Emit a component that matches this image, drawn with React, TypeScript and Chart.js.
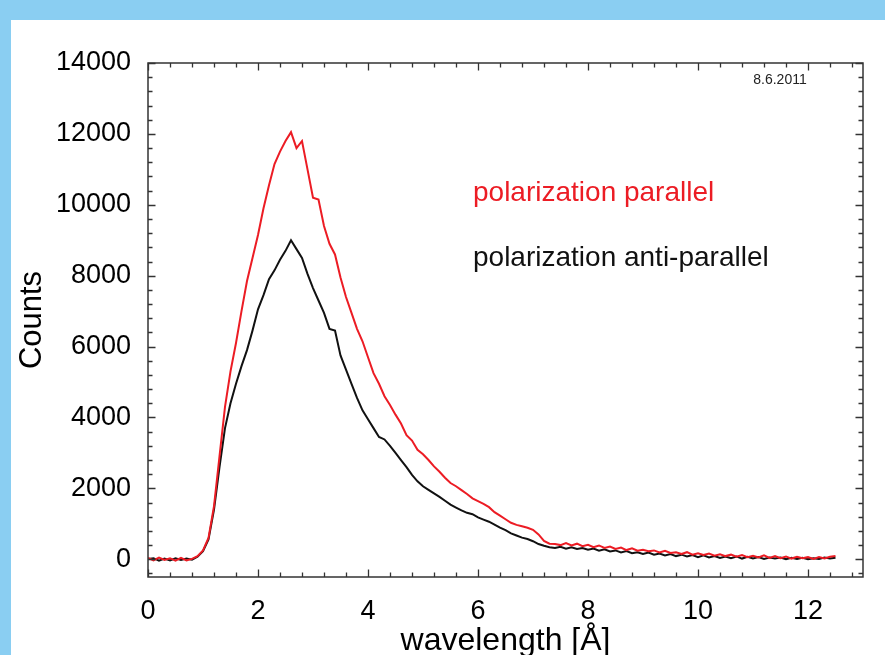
import React, { useEffect, useRef } from "react";
import { Chart, registerables } from "chart.js";

Chart.register(...registerables);

// wavelength [Å]
const wavelength = [
  0.0, 0.1, 0.2, 0.3, 0.4, 0.5, 0.6, 0.7, 0.8, 0.9,
  1.0, 1.1, 1.2, 1.3, 1.4, 1.5, 1.6, 1.7, 1.8, 1.9,
  2.0, 2.1, 2.2, 2.3, 2.4, 2.5, 2.6, 2.7, 2.8, 2.9,
  3.0, 3.1, 3.2, 3.3, 3.4, 3.5, 3.6, 3.7, 3.8, 3.9,
  4.0, 4.1, 4.2, 4.3, 4.4, 4.5, 4.6, 4.7, 4.8, 4.9,
  5.0, 5.1, 5.2, 5.3, 5.4, 5.5, 5.6, 5.7, 5.8, 5.9,
  6.0, 6.1, 6.2, 6.3, 6.4, 6.5, 6.6, 6.7, 6.8, 6.9,
  7.0, 7.1, 7.2, 7.3, 7.4, 7.5, 7.6, 7.7, 7.8, 7.9,
  8.0, 8.1, 8.2, 8.3, 8.4, 8.5, 8.6, 8.7, 8.8, 8.9,
  9.0, 9.1, 9.2, 9.3, 9.4, 9.5, 9.6, 9.7, 9.8, 9.9,
  10.0, 10.1, 10.2, 10.3, 10.4, 10.5, 10.6, 10.7, 10.8, 10.9,
  11.0, 11.1, 11.2, 11.3, 11.4, 11.5, 11.6, 11.7, 11.8, 11.9,
  12.0, 12.1, 12.2, 12.3, 12.4, 12.5,
];

// Counts, polarization parallel (red)
const parallelCounts = [
  40, -30, 50, -20, 30, -40, 40, -30, 10, 90,
  250, 600, 1500, 2900, 4300, 5300, 6100, 7000, 7850, 8500,
  9150, 9900, 10550, 11150, 11500, 11800, 12050, 11600, 11800, 11000,
  10200, 10150, 9400, 8900, 8600, 7950, 7400, 6950, 6500, 6150,
  5700, 5250, 4950, 4600, 4350, 4080, 3830, 3500, 3350, 3090,
  2960, 2800, 2620, 2470, 2300, 2150, 2060, 1950, 1840, 1720,
  1640, 1560, 1470, 1330, 1230, 1130, 1030, 970, 930, 890,
  830, 700, 520, 440, 430, 400, 460, 390, 440, 370,
  410, 340, 390, 320, 360, 290, 330, 260, 310, 240,
  270, 230, 250, 190, 240, 180, 200, 150, 200, 130,
  170, 120, 160, 100, 140, 90, 130, 70, 120, 60,
  100, 50, 110, 40, 90, 30, 80, 20, 70, 30,
  60, 10, 60, 20, 70, 90,
];

// Counts, polarization anti-parallel (black)
const antiParallelCounts = [
  10, 30, -40, 20, -30, 30, -20, 20, -10, 70,
  230, 560, 1400, 2600, 3700, 4400, 4950, 5450, 5900, 6450,
  7050, 7450, 7900, 8150, 8450, 8700, 9000, 8750, 8500, 8050,
  7650, 7300, 6950, 6500, 6450, 5750, 5350, 4950, 4550, 4200,
  3950, 3700, 3450, 3380, 3200, 3000, 2800, 2600, 2380, 2200,
  2060, 1960, 1860, 1760, 1650, 1540, 1460, 1380, 1310, 1270,
  1180, 1120, 1060, 980, 890, 820, 730, 670, 610, 570,
  510, 430, 380, 340, 320, 350, 300, 340, 290, 320,
  270, 300, 240, 280, 220, 250, 190, 230, 170, 200,
  150, 190, 130, 160, 110, 150, 90, 130, 80, 120,
  60, 110, 50, 90, 40, 80, 30, 80, 20, 70,
  20, 60, 10, 50, 20, 50, 0, 40, 10, 40,
  0, 30, 10, 50, 20, 40,
];

const seriesNames = ["polarization parallel", "polarization anti-parallel"];
const dateLabel = "8.6.2011";
const xTitle = "wavelength [Å]";
const yTitle = "Counts";

const xTickValues = [0, 2, 4, 6, 8, 10, 12];
const yTickValues = [0, 2000, 4000, 6000, 8000, 10000, 12000, 14000];

const X_MIN = 0;
const X_MAX = 13;
const X_MAJOR = 2;
const X_MINOR = 0.4;
const Y_MIN = -500;
const Y_MAX = 14000;
const Y_MAJOR = 2000;
const Y_MINOR = 400;

const RED = "#ec1c24";
const BLACK = "#111111";
const FONT = "'Liberation Sans', Arial, Helvetica, sans-serif";

const frameTicksPlugin = {
  id: "frameTicks",
  afterDraw(chart: any) {
    const { ctx, chartArea, scales } = chart;
    const { left, right, top, bottom } = chartArea;
    const xs = scales.x;
    const ys = scales.y;
    ctx.save();
    ctx.strokeStyle = "#333333";
    ctx.lineWidth = 1.5;
    ctx.strokeRect(left, top, right - left, bottom - top);

    ctx.lineWidth = 1.3;
    ctx.beginPath();
    for (let i = 0; ; i++) {
      const v = X_MIN + i * X_MINOR;
      if (v > X_MAX + 1e-9) break;
      const px = Math.round(xs.getPixelForValue(v)) + 0.5;
      const r = v / X_MAJOR;
      const major = Math.abs(r - Math.round(r)) < 1e-6;
      const len = major ? 7.5 : 4.5;
      ctx.moveTo(px, bottom);
      ctx.lineTo(px, bottom - len);
      ctx.moveTo(px, top);
      ctx.lineTo(px, top + len);
    }
    const yStart = Math.ceil(Y_MIN / Y_MINOR);
    for (let i = yStart; ; i++) {
      const v = i * Y_MINOR;
      if (v > Y_MAX + 1e-9) break;
      const py = Math.round(ys.getPixelForValue(v)) + 0.5;
      const r = v / Y_MAJOR;
      const major = Math.abs(r - Math.round(r)) < 1e-6;
      const len = major ? 7.5 : 4.5;
      ctx.moveTo(left, py);
      ctx.lineTo(left + len, py);
      ctx.moveTo(right, py);
      ctx.lineTo(right - len, py);
    }
    ctx.stroke();

    ctx.textBaseline = "middle";
    ctx.textAlign = "left";
    ctx.font = `28px ${FONT}`;
    ctx.fillStyle = RED;
    ctx.fillText(seriesNames[0], 473, 193);
    ctx.fillStyle = BLACK;
    ctx.fillText(seriesNames[1], 473, 258);

    ctx.textAlign = "center";
    ctx.font = `14px ${FONT}`;
    ctx.fillStyle = "#222222";
    ctx.fillText(dateLabel, 780, 80);
    ctx.restore();
  },
};

export default function App() {
  const canvasRef = useRef<HTMLCanvasElement | null>(null);

  useEffect(() => {
    if (!canvasRef.current) return;
    const parallelData = wavelength.map((x, i) => ({ x, y: parallelCounts[i] }));
    const antiData = wavelength.map((x, i) => ({ x, y: antiParallelCounts[i] }));

    const chart = new Chart(canvasRef.current, {
      type: "line",
      data: {
        datasets: [
          {
            label: seriesNames[0],
            data: parallelData,
            borderColor: RED,
            borderWidth: 2,
            pointRadius: 0,
            tension: 0,
            fill: false,
          },
          {
            label: seriesNames[1],
            data: antiData,
            borderColor: BLACK,
            borderWidth: 2,
            pointRadius: 0,
            tension: 0,
            fill: false,
          },
        ],
      },
      options: {
        animation: false,
        responsive: true,
        maintainAspectRatio: false,
        layout: { padding: { left: 0, right: 22, top: 63, bottom: 0 } },
        plugins: {
          legend: { display: false },
          tooltip: { enabled: false },
          title: { display: false },
        },
        scales: {
          x: {
            type: "linear",
            min: X_MIN,
            max: X_MAX,
            grid: { display: false, drawTicks: false },
            border: { display: false },
            afterBuildTicks: (scale: any) => {
              scale.ticks = xTickValues.map((v) => ({ value: v }));
            },
            ticks: {
              color: "#000",
              padding: 18,
              font: { family: FONT, size: 27 },
              maxRotation: 0,
              autoSkip: false,
              callback: (v: any) => String(v),
            },
            title: {
              display: true,
              text: xTitle,
              color: "#000",
              font: { family: FONT, size: 32, lineHeight: 0.85 },
              padding: { top: 0, bottom: 0 },
            },
            afterFit: (scale: any) => {
              scale.height = 78;
            },
          },
          y: {
            type: "linear",
            min: Y_MIN,
            max: Y_MAX,
            grid: { display: false, drawTicks: false },
            border: { display: false },
            afterBuildTicks: (scale: any) => {
              scale.ticks = yTickValues.map((v) => ({ value: v }));
            },
            ticks: {
              color: "#000",
              padding: 17,
              autoSkip: false,
              font: { family: FONT, size: 27 },
              callback: (v: any) => String(v),
            },
            title: {
              display: true,
              text: yTitle,
              color: "#000",
              font: { family: FONT, size: 31, lineHeight: 1 },
              padding: { top: 17, bottom: 0 },
            },
            afterFit: (scale: any) => {
              scale.width = 148;
            },
          },
        },
      },
      plugins: [frameTicksPlugin],
    });
    return () => chart.destroy();
  }, []);

  return (
    <div
      style={{
        position: "absolute",
        left: 0,
        top: 0,
        width: 885,
        height: 655,
        background: "#8acef2",
        overflow: "hidden",
      }}
    >
      <div
        style={{
          position: "absolute",
          left: 11,
          top: 20,
          right: 0,
          bottom: 0,
          background: "#ffffff",
        }}
      />
      <div style={{ position: "absolute", left: 0, top: 0, width: 885, height: 655 }}>
        <canvas ref={canvasRef} />
      </div>
    </div>
  );
}
